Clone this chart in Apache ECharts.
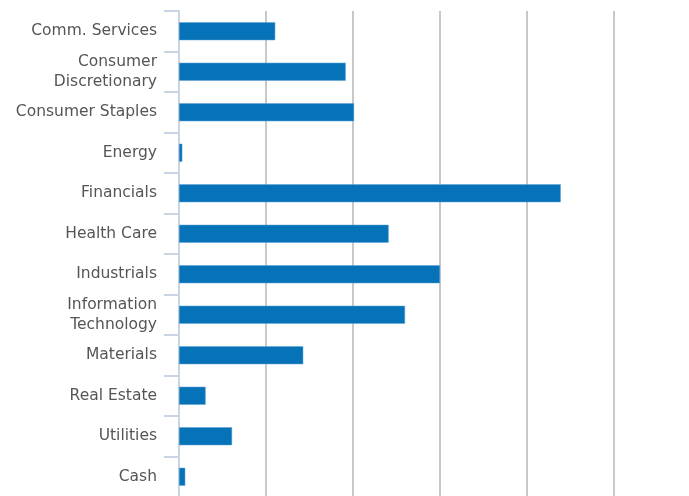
<!DOCTYPE html>
<html>
<head>
<meta charset="utf-8">
<script src="https://cdn.jsdelivr.net/npm/echarts@6/dist/echarts.min.js"></script>
<style>
html,body{margin:0;padding:0;background:#fff;}
#chart{width:689px;height:496px;}
</style>
</head>
<body>
<div id="chart"></div>
<script>
const categories = ["Comm. Services","Consumer\nDiscretionary","Consumer Staples","Energy","Financials","Health Care","Industrials","Information\nTechnology","Materials","Real Estate","Utilities","Cash"];
const values = [5.53, 9.58, 10.06, 0.19, 21.94, 12.05, 15.0, 12.99, 7.14, 1.53, 3.05, 0.36];

const chart = echarts.init(document.getElementById('chart'), null, {renderer:'canvas'});
chart.setOption({
  animation:false,
  backgroundColor:'#ffffff',
  grid:{left:179, top:11, width:522, height:486, containLabel:false, outerBoundsMode:'none'},
  xAxis:{
    type:'value', min:0, max:30, interval:5,
    axisLine:{show:false}, axisTick:{show:false}, axisLabel:{show:false},
    splitLine:{show:true, lineStyle:{color:'#c8c8c8', width:2}}
  },
  yAxis:{
    type:'category', data:categories, inverse:true,
    axisLine:{show:true, lineStyle:{color:'#c9d5e3', width:2}},
    axisTick:{show:true, length:15, lineStyle:{color:'#c9d5e3', width:2}},
    axisLabel:{margin:22, color:'#555555', fontFamily:'DejaVu Sans', fontSize:15.5, lineHeight:20, align:'right'},
    splitLine:{show:false}
  },
  series:[{
    type:'bar', data:values, barWidth:18,
    itemStyle:{color:'#0673b8', borderColor:'#5fa3d6', borderWidth:0.5}
  }]
});
</script>
</body>
</html>
